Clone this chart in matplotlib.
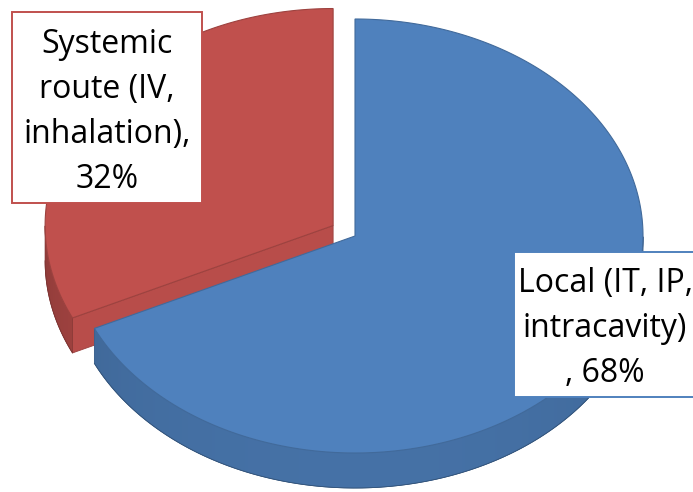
import numpy as np
import matplotlib.pyplot as plt
from matplotlib.patches import Polygon, Rectangle
from matplotlib.colors import to_rgb

# route of administration shares
categories = ['Local (IT, IP, intracavity)', 'Systemic route (IV, inhalation)']
values = [68, 32]
label_text = ['Local (IT, IP,\nintracavity)\n, 68%',
              'Systemic\nroute (IV,\ninhalation),\n32%']
colors = ['#4F81BD', '#C0504D']
explode = [0.0, 0.09]

W, H = 693, 492
cx, cy = 355, 236        # centre of the top face (pixels)
rx, ry = 288, 217        # ellipse radii of the tilted disc
depth = 35               # thickness of the disc

fig = plt.figure(figsize=(W / 100, H / 100), dpi=100)
ax = fig.add_axes([0, 0, 1, 1])
ax.set_xlim(0, W)
ax.set_ylim(H, 0)
ax.axis('off')


def pt(t, ox, oy, dz=0.0):
    t = np.radians(t)
    return ox + rx * np.cos(t), oy - ry * np.sin(t) + dz


def shade(c, f):
    r, g, b = to_rgb(c)
    return (min(r * f, 1), min(g * f, 1), min(b * f, 1))


def side_factor(t):
    s = np.clip(-np.sin(np.radians(t)), 0, 1)
    return 0.70 + 0.18 * s ** 0.5


# slice geometry, first slice starts at 12 o'clock going clockwise
total = sum(values)
start = 90.0
slices = []
for v, c, e in zip(values, colors, explode):
    sweep = 360.0 * v / total
    t0, t1 = start - sweep, start
    mid = np.radians((t0 + t1) / 2)
    ox = cx + e * rx * np.cos(mid)
    oy = cy - e * ry * np.sin(mid)
    slices.append((t0, t1, ox, oy, c))
    start = t0

# back slice first, front slice last
for z, (t0, t1, ox, oy, c) in zip([1, 2], [slices[1], slices[0]]):
    base = 10 * z
    # radial cut faces
    for t, nrm in [(t0, t0 - 90), (t1, t1 + 90)]:
        if np.sin(np.radians(nrm)) < -0.05:
            ex, ey = pt(t, ox, oy)
            quad = [(ox, oy), (ex, ey), (ex, ey + depth), (ox, oy + depth)]
            ax.add_patch(Polygon(quad, closed=True, fc=shade(c, 0.96),
                                 ec=shade(c, 0.8), lw=0.6, zorder=base))
    # outer curved side, shaded by a horizontal gradient
    ts = np.linspace(t0, t1, 400)
    vis = ts[np.sin(np.radians(ts)) < 0]
    if len(vis):
        tx, ty = pt(vis, ox, oy)
        bx, by = pt(vis, ox, oy, depth)
        side = np.column_stack([np.r_[tx, bx[::-1]], np.r_[ty, by[::-1]]])
        patch = Polygon(side, closed=True, fc=shade(c, 0.8),
                        ec=shade(c, 0.65), lw=0.6, zorder=base + 1)
        ax.add_patch(patch)
        xs = np.linspace(side[:, 0].min(), side[:, 0].max(), 300)
        ang = -np.degrees(np.arccos(np.clip((xs - ox) / rx, -1, 1)))
        grad = np.array([shade(c, f) for f in side_factor(ang)])[None, :, :]
        img = ax.imshow(np.repeat(grad, 2, axis=0), aspect='auto',
                        extent=(xs[0], xs[-1], side[:, 1].max(), side[:, 1].min()),
                        interpolation='bilinear', zorder=base + 1.5)
        img.set_clip_path(patch)
        ax.plot(bx, by, color=shade(c, 0.65), lw=0.6, zorder=base + 2)
    # top face
    ax_, ay_ = pt(ts, ox, oy)
    top = np.column_stack([np.r_[ox, ax_], np.r_[oy, ay_]])
    ax.add_patch(Polygon(top, closed=True, fc=c, ec=shade(c, 0.82), lw=0.8,
                         zorder=base + 3))

ax.set_xlim(0, W)
ax.set_ylim(H, 0)

# data label boxes
boxes = [(514, 252, 190, 145), (12, 12, 190, 191)]
for (bx, by, bw, bh), c in zip(boxes, colors):
    ax.add_patch(Rectangle((bx, by), bw, bh, fc='white', ec=c, lw=1.4,
                           zorder=40))

# label lines placed on their baselines
anchors = [(605, 292), (107, 53)]
for (x, y0), txt in zip(anchors, label_text):
    for i, line in enumerate(txt.split('\n')):
        ax.text(x, y0 + 45 * i, line, ha='center', va='baseline',
                fontsize=23, family='Open Sans', color='black', zorder=41)

fig.savefig('out.png', dpi=100)
